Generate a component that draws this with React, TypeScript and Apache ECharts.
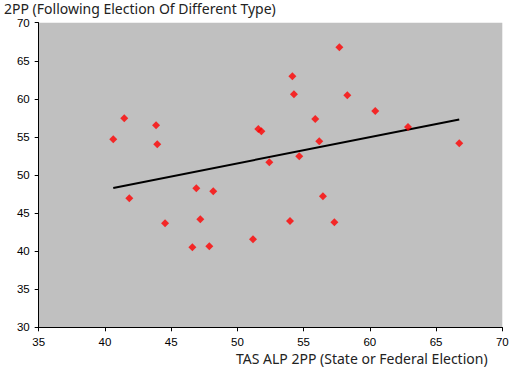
import React, { useEffect, useRef } from "react";
import * as echarts from "echarts";

const xValues = [41.46, 43.86, 54.15, 54.27, 57.7, 58.3, 55.88, 60.41, 62.88, 40.63, 43.95, 41.84, 44.54, 51.58, 51.81, 52.41, 54.67, 56.18, 46.9, 48.18, 47.2, 53.97, 56.46, 57.32, 66.75, 51.18, 46.6, 47.88];
const yValues = [57.45, 56.53, 62.96, 60.6, 66.77, 60.47, 57.35, 58.4, 56.3, 54.69, 54.03, 46.94, 43.66, 56.04, 55.74, 51.67, 52.46, 54.43, 48.25, 47.86, 44.18, 43.96, 47.2, 43.79, 54.16, 41.56, 40.51, 40.64];
const trendX = [40.63, 66.75];
const trendY = [48.3, 57.3];
const xTicks = [35, 70, 5];
const yTicks = [30, 70, 5];
const titleText = "2PP (Following Election Of Different Type)";
const xAxisTitle = "TAS ALP 2PP (State or Federal Election)";

export default function App() {
  const ref = useRef<HTMLDivElement>(null);
  useEffect(() => {
    const chart = echarts.init(ref.current!, null, { renderer: "svg" });
    const labelFont = { color: "#000", fontFamily: "Liberation Sans, Arial", fontSize: 11.5 };
    chart.setOption({
      animation: false,
      backgroundColor: "#fff",
      grid: { left: 38.7, right: 11.7, top: 22.7, bottom: 42.7, show: true, backgroundColor: "#C0C0C0", borderWidth: 0 },
      xAxis: {
        type: "value",
        min: xTicks[0],
        max: xTicks[1],
        interval: xTicks[2],
        axisLine: { show: true, lineStyle: { color: "#000", width: 1 } },
        axisTick: { show: true, inside: false, length: 4, lineStyle: { color: "#000" } },
        axisLabel: { ...labelFont, margin: 9 },
        splitLine: { show: false },
      },
      yAxis: {
        type: "value",
        min: yTicks[0],
        max: yTicks[1],
        interval: yTicks[2],
        axisLine: { show: true, lineStyle: { color: "#000", width: 1 } },
        axisTick: { show: true, inside: false, length: 4, lineStyle: { color: "#000" } },
        axisLabel: { ...labelFont, margin: 9 },
        splitLine: { show: false },
      },
      graphic: [
        { type: "text", left: 4, top: 1, style: { text: titleText, fill: "#222", font: "14px 'Noto Sans'" } },
        { type: "text", left: 236, top: 351, style: { text: xAxisTitle, fill: "#222", font: "14px 'Noto Sans'" } },
      ],
      series: [
        {
          type: "scatter",
          data: xValues.map((x, i) => [x, yValues[i]]),
          symbol: "diamond",
          symbolSize: 8,
          itemStyle: { color: "#FF0000" },
          z: 3,
        },
        {
          type: "line",
          data: trendX.map((x, i) => [x, trendY[i]]),
          showSymbol: false,
          lineStyle: { color: "#000", width: 2 },
          z: 2,
        },
      ],
    });
    return () => chart.dispose();
  }, []);
  return <div ref={ref} style={{ width: 514, height: 370, position: "absolute", left: 0, top: 0 }} />;
}
